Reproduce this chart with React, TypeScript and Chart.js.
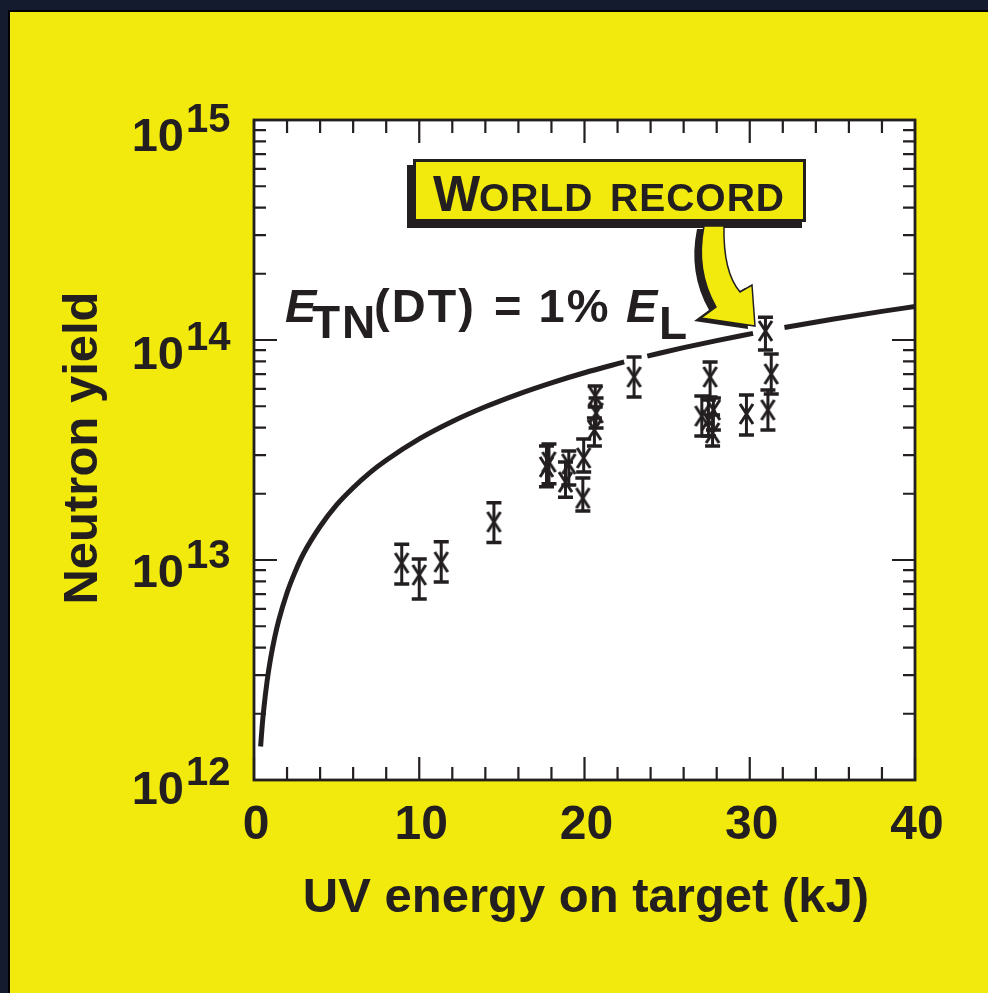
import React, { useEffect, useRef } from 'react';
import { Chart, registerables } from 'chart.js';

Chart.register(...registerables);

// ---- data ----
const energy = [8.94, 10.0, 11.33, 14.52, 17.7, 17.85, 18.85, 19.05, 19.95, 19.9, 20.65, 20.7, 20.6, 23.0, 27.1, 27.6, 27.8, 27.75, 27.5, 29.8, 30.95, 31.3, 31.1];
const yieldVals = [9.69e12, 8.55e12, 9.79e12, 1.49e13, 2.65e13, 2.79e13, 2.26e13, 2.73e13, 2.91e13, 1.91e13, 5.57e13, 4.66e13, 3.9e13, 6.79e13, 4.51e13, 6.79e13, 4.81e13, 3.78e13, 4.33e13, 4.61e13, 1.1e14, 7.01e13, 4.81e13];
const yieldHi = [1.18e13, 1.01e13, 1.21e13, 1.82e13, 3.3e13, 3.37e13, 2.79e13, 3.13e13, 3.55e13, 2.36e13, 6.18e13, 5.45e13, 4.42e13, 8.37e13, 5.57e13, 7.94e13, 5.45e13, 4.56e13, 5.34e13, 5.62e13, 1.27e14, 8.64e13, 5.93e13];
const yieldLo = [7.78e12, 6.65e12, 7.94e12, 1.2e13, 2.15e13, 2.22e13, 1.93e13, 2.19e13, 2.51e13, 1.67e13, 4.96e13, 3.98e13, 3.3e13, 5.51e13, 3.66e13, 5.51e13, 3.9e13, 3.3e13, 3.66e13, 3.7e13, 9.01e13, 5.68e13, 3.9e13];

// E_TN(DT) = 1% E_L curve (null = gap where the curve is interrupted)
const curveEnergy = [0.4, 0.5, 0.6, 0.8, 1, 1.25, 1.5, 2, 2.5, 3, 4, 5, 6, 7, 8, 10, 12, 14, 16, 18, 20, 22.4, 23.0, 23.8, 26, 28, 30.2, 31.0, 32.1, 35, 38, 40];
const curveYield: (number | null)[] = [1.42e12, 1.78e12, 2.13e12, 2.84e12, 3.55e12, 4.44e12, 5.33e12, 7.1e12, 8.88e12, 1.07e13, 1.42e13, 1.78e13, 2.13e13, 2.49e13, 2.84e13, 3.55e13, 4.26e13, 4.97e13, 5.68e13, 6.39e13, 7.1e13, 7.95e13, null, 8.45e13, 9.23e13, 9.94e13, 1.072e14, null, 1.14e14, 1.243e14, 1.349e14, 1.42e14];

const xMajorTicks = [0, 10, 20, 30, 40];
const xTickLabels = ['0', '10', '20', '30', '40'];
const yExponents = [12, 13, 14, 15];
const yExponentLabels = ['12', '13', '14', '15'];

const INK = '#231F20';
const YELLOW = '#F2EA0D';
const NAVY = '#141B2E';
const FONT = '"Liberation Sans", Arial, sans-serif';

export default function App() {
  const ref = useRef<HTMLCanvasElement>(null);

  useEffect(() => {
    document.body.style.margin = '0';
    const canvas = ref.current!;

    const marker = document.createElement('canvas');
    marker.width = 17;
    marker.height = 22;
    const mctx = marker.getContext('2d')!;
    mctx.strokeStyle = INK;
    mctx.lineWidth = 3;
    mctx.beginPath();
    mctx.moveTo(2, 1);
    mctx.lineTo(15, 21);
    mctx.moveTo(15, 1);
    mctx.lineTo(2, 21);
    mctx.stroke();

    const decor = {
      id: 'decor',
      beforeDraw(chart: any) {
        const { ctx, chartArea: a } = chart;
        ctx.save();
        ctx.fillStyle = NAVY;
        ctx.fillRect(0, 0, 988, 993);
        ctx.fillStyle = '#000';
        ctx.fillRect(8, 10, 980, 983);
        ctx.fillStyle = YELLOW;
        ctx.fillRect(10, 12, 978, 981);
        ctx.fillStyle = '#fff';
        ctx.fillRect(a.left, a.top, a.right - a.left, a.bottom - a.top);
        ctx.restore();
      },
      beforeDatasetsDraw(chart: any) {
        const { ctx } = chart;
        const xs = chart.scales.x;
        const ys = chart.scales.y;
        ctx.save();
        ctx.strokeStyle = INK;
        for (let i = 0; i < energy.length; i++) {
          const x = xs.getPixelForValue(energy[i]);
          const yt = ys.getPixelForValue(yieldHi[i]);
          const yb = ys.getPixelForValue(yieldLo[i]);
          ctx.lineWidth = 3;
          ctx.beginPath();
          ctx.moveTo(x, yt);
          ctx.lineTo(x, yb);
          ctx.stroke();
          ctx.lineWidth = 3.5;
          ctx.beginPath();
          ctx.moveTo(x - 7.5, yt);
          ctx.lineTo(x + 7.5, yt);
          ctx.moveTo(x - 7.5, yb);
          ctx.lineTo(x + 7.5, yb);
          ctx.stroke();
        }
        ctx.restore();
      },
      afterDatasetsDraw(chart: any) {
        const { ctx, chartArea: a } = chart;
        const xs = chart.scales.x;
        const ys = chart.scales.y;
        ctx.save();
        ctx.strokeStyle = INK;
        ctx.fillStyle = INK;
        // ticks
        ctx.lineWidth = 2.2;
        ctx.beginPath();
        for (let v = 0; v <= 40; v += 2) {
          const x = xs.getPixelForValue(v);
          const len = xMajorTicks.includes(v) ? 23 : 13;
          ctx.moveTo(x, a.bottom);
          ctx.lineTo(x, a.bottom - len);
          ctx.moveTo(x, a.top);
          ctx.lineTo(x, a.top + len);
        }
        for (let e = 12; e <= 15; e++) {
          for (let m = 1; m <= 9; m++) {
            if (e === 15 && m > 1) break;
            const y = ys.getPixelForValue(m * Math.pow(10, e));
            const len = m === 1 ? 23 : 12;
            ctx.moveTo(a.left, y);
            ctx.lineTo(a.left + len, y);
            ctx.moveTo(a.right, y);
            ctx.lineTo(a.right - len, y);
          }
        }
        ctx.stroke();
        // frame
        ctx.lineWidth = 2.8;
        ctx.strokeRect(a.left, a.top, a.right - a.left, a.bottom - a.top);

        // x tick labels
        ctx.font = `bold 48px ${FONT}`;
        ctx.textAlign = 'center';
        ctx.textBaseline = 'alphabetic';
        xMajorTicks.forEach((v, i) => {
          ctx.fillText(xTickLabels[i], xs.getPixelForValue(v) + 2, 839);
        });
        // y tick labels
        const yLabelShift = [-7, -4, -2, 0];
        yExponents.forEach((e, i) => {
          const y = ys.getPixelForValue(Math.pow(10, e)) + yLabelShift[i];
          ctx.font = `bold 47px ${FONT}`;
          ctx.textAlign = 'right';
          ctx.fillText('10', 184, y + 31);
          ctx.font = `bold 40px ${FONT}`;
          ctx.textAlign = 'left';
          ctx.fillText(yExponentLabels[i], 186, y + 12);
        });
        // axis titles
        ctx.font = `bold 49px ${FONT}`;
        ctx.textAlign = 'center';
        ctx.fillText('UV energy on target (kJ)', 586, 912);
        ctx.save();
        ctx.translate(97, 448);
        ctx.rotate(-Math.PI / 2);
        ctx.fillText('Neutron yield', 0, 0);
        ctx.restore();

        // formula label
        ctx.textAlign = 'left';
        (ctx as any).letterSpacing = '2px';
        ctx.font = `italic bold 47px ${FONT}`;
        ctx.fillText('E', 285, 322);
        ctx.font = `bold 46px ${FONT}`;
        ctx.fillText('TN', 312, 338);
        ctx.font = `bold 47px ${FONT}`;
        ctx.fillText('(DT)', 374, 322);
        ctx.fillText('= 1%', 494, 322);
        ctx.font = `italic bold 47px ${FONT}`;
        ctx.fillText('E', 626, 322);
        ctx.font = `bold 46px ${FONT}`;
        ctx.fillText('L', 659, 339);
        (ctx as any).letterSpacing = '0px';

        // callout box
        ctx.fillStyle = INK;
        ctx.fillRect(407, 165, 395, 63);
        ctx.fillStyle = YELLOW;
        ctx.fillRect(413, 159, 393, 63);
        ctx.lineWidth = 3;
        ctx.strokeRect(414.5, 160.5, 390, 60);
        ctx.fillStyle = INK;
        ctx.font = `bold 50px ${FONT}`;
        ctx.fillText('W', 433, 211);
        (ctx as any).letterSpacing = '1px';
        ctx.font = `bold 39px ${FONT}`;
        ctx.fillText('ORLD', 479, 211);
        ctx.fillText('RECORD', 610, 211);
        (ctx as any).letterSpacing = '0px';

        // curved arrow
        const arrow = (dx: number, dy: number) => {
          ctx.beginPath();
          ctx.moveTo(724 + dx, 226 + dy);
          ctx.quadraticCurveTo(723 + dx, 272 + dy, 740 + dx, 292 + dy);
          ctx.lineTo(752 + dx, 285 + dy);
          ctx.lineTo(755 + dx, 326 + dy);
          ctx.lineTo(701 + dx, 318 + dy);
          ctx.lineTo(716 + dx, 307 + dy);
          ctx.quadraticCurveTo(695 + dx, 270 + dy, 704 + dx, 226 + dy);
          ctx.closePath();
        };
        ctx.fillStyle = INK;
        arrow(-7, 3);
        ctx.fill();
        ctx.fillStyle = YELLOW;
        arrow(0, 0);
        ctx.fill();
        ctx.lineWidth = 1.5;
        ctx.stroke();
        ctx.restore();
      },
    };

    const chart = new Chart(canvas, {
      type: 'scatter',
      data: {
        datasets: [
          {
            type: 'line',
            data: curveEnergy.map((x, i) => ({ x, y: curveYield[i] })) as any,
            borderColor: INK,
            borderWidth: 5,
            pointRadius: 0,
            cubicInterpolationMode: 'monotone',
            spanGaps: false,
            borderCapStyle: 'butt',
            fill: false,
          },
          {
            type: 'scatter',
            data: energy.map((x, i) => ({ x, y: yieldVals[i] })),
            pointStyle: marker as any,
            pointRadius: 8,
            pointHoverRadius: 8,
          },
        ],
      },
      options: {
        animation: false,
        responsive: false,
        maintainAspectRatio: false,
        events: [],
        layout: { padding: { left: 254, right: 73, top: 120, bottom: 213 } },
        plugins: { legend: { display: false }, tooltip: { enabled: false }, title: { display: false } },
        scales: {
          x: { type: 'linear', min: 0, max: 40, display: false },
          y: { type: 'logarithmic', min: 1e12, max: 1e15, display: false },
        },
      },
      plugins: [decor],
    });
    return () => chart.destroy();
  }, []);

  return <canvas ref={ref} width={988} height={993} style={{ display: 'block', width: 988, height: 993 }} />;
}
